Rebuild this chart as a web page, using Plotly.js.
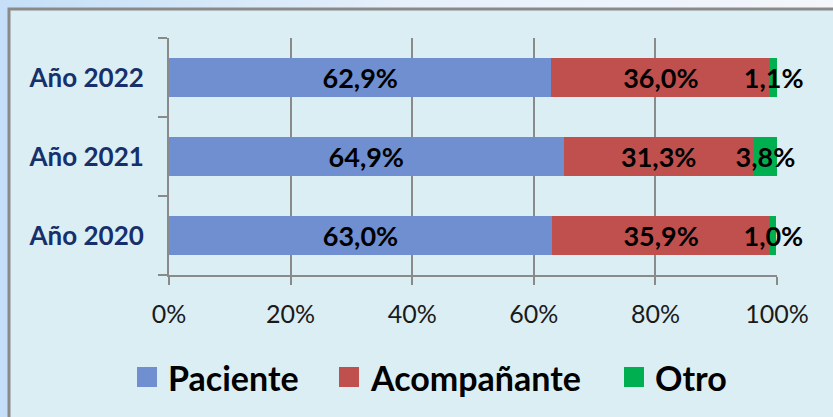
<!DOCTYPE html>
<html>
<head>
<meta charset="utf-8">
<script src="https://cdn.plot.ly/plotly-3.0.1.min.js"></script>
<style>
  html, body { margin:0; padding:0; }
  body { width:833px; height:417px; overflow:hidden;
         background: linear-gradient(to right, #c4dff7 0%, #e6f0fa 50%, #f3f6fa 100%); }
  #chart { width:833px; height:417px; }
</style>
</head>
<body>
<div id="chart"></div>
<script>
const categories = ['Año 2020', 'Año 2021', 'Año 2022'];
const seriesNames = ['Paciente', 'Acompañante', 'Otro'];
const paciente    = [63.0, 64.9, 62.9];
const acompanante = [35.9, 31.3, 36.0];
const otro        = [1.0, 3.8, 1.1];
const xTickVals   = [0, 20, 40, 60, 80, 100];
const xTickLabels = ['0%', '20%', '40%', '60%', '80%', '100%'];
const colors = ['#6F8FD0', '#C0504D', '#00B050'];

// plot area in pixels
const L = 169, T = 38, R = 777, B = 275;
const W = R - L, H = B - T;
const px = v => (v - L) / W;
const py = v => (B - v) / H;

const fmt = v => v.toFixed(1).replace('.', ',') + '%';
const labelFont = {family: 'Lato, sans-serif', size: 27, color: '#000', weight: 700};

const series = [paciente, acompanante, otro];
const traces = series.map((vals, i) => ({
  type: 'bar',
  orientation: 'h',
  name: seriesNames[i],
  y: categories,
  x: vals,
  width: 0.5,
  marker: {color: colors[i], line: {width: 0}},
  text: vals.map(fmt),
  textposition: 'inside',
  insidetextanchor: 'middle',
  textangle: 0,
  constraintext: 'none',
  insidetextfont: labelFont,
  cliponaxis: false,
  showlegend: false,
  hoverinfo: 'skip'
}));

// manual legend (swatch positions in pixels)
const legendSwatchX = [137, 339, 624];
const legendY = 377;
const shapes = [{
  type: 'rect', xref: 'paper', yref: 'paper', layer: 'below',
  x0: px(9), x1: px(900), y0: py(9), y1: py(500),
  fillcolor: '#DBEEF4', line: {color: '#8a8a8a', width: 3}
}];
const annotations = [];
seriesNames.forEach((n, i) => {
  shapes.push({
    type: 'rect', xref: 'paper', yref: 'paper',
    x0: px(legendSwatchX[i]), x1: px(legendSwatchX[i] + 20),
    y0: py(legendY - 10), y1: py(legendY + 10),
    fillcolor: colors[i], line: {width: 0}
  });
  annotations.push({
    xref: 'paper', yref: 'paper', x: px(legendSwatchX[i] + 29), y: py(legendY),
    xanchor: 'left', yanchor: 'middle', showarrow: false, text: n,
    font: {family: 'Lato, sans-serif', size: 34, color: '#000', weight: 700}
  });
});

const layout = {
  width: 833, height: 417,
  margin: {l: L, r: 833 - R, t: T, b: 417 - B, pad: 0},
  paper_bgcolor: 'rgba(0,0,0,0)',
  plot_bgcolor: 'rgba(0,0,0,0)',
  barmode: 'stack',
  showlegend: false,
  xaxis: {
    range: [0, 100], tickmode: 'array', tickvals: xTickVals, ticktext: xTickLabels,
    showgrid: true, gridcolor: '#8a8a8a', gridwidth: 2,
    zeroline: false, showline: true, linecolor: '#8a8a8a', linewidth: 2,
    ticks: 'outside', ticklen: 8, tickwidth: 2, tickcolor: '#8a8a8a',
    tickfont: {family: 'Lato, sans-serif', size: 25, color: '#1a1a1a'},
    ticklabelstandoff: 8, fixedrange: true
  },
  yaxis: {
    type: 'category', categoryarray: categories, categoryorder: 'array',
    range: [-0.5, 2.5],
    showgrid: false, zeroline: false,
    showline: true, linecolor: '#8a8a8a', linewidth: 2,
    ticks: 'outside', tickson: 'boundaries', ticklen: 9, tickwidth: 2, tickcolor: '#8a8a8a',
    tickfont: {family: 'Lato, sans-serif', size: 26, color: '#17306B', weight: 700},
    ticklabelstandoff: 18, fixedrange: true
  },
  shapes: shapes,
  annotations: annotations
};

Plotly.newPlot('chart', traces, layout, {displayModeBar: false, staticPlot: true});
</script>
</body>
</html>
